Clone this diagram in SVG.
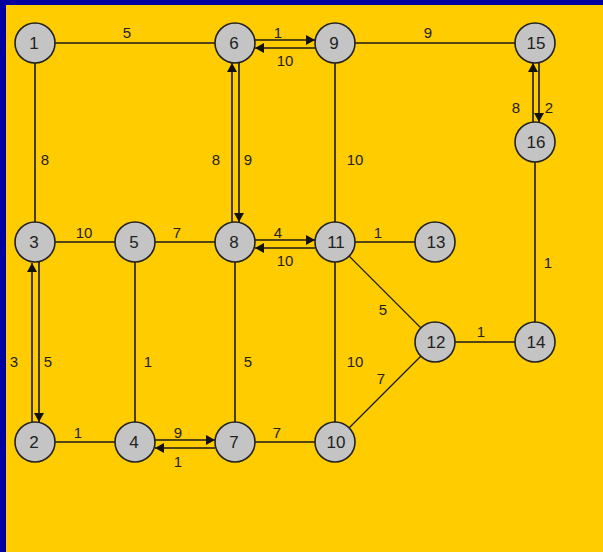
<svg xmlns="http://www.w3.org/2000/svg" width="603" height="552" viewBox="0 0 603 552">
<style>
.e{stroke:#1a1a1a;stroke-width:1.6;fill:none}
.d{stroke:#1a1a1a;stroke-width:1.2;fill:none}
.a{stroke:#1a1a1a;stroke-width:1.6;fill:none;marker-end:url(#ah)}
.n circle{fill:#c4c4c4;stroke:#222;stroke-width:1.6}
.n text{font-family:"Liberation Sans",Arial,sans-serif;font-size:17px;fill:#222;text-anchor:middle}
.l{font-family:"Liberation Sans",Arial,sans-serif;font-size:15px;fill:#222;text-anchor:middle}
</style>
<defs>
<marker id="ah" markerUnits="userSpaceOnUse" markerWidth="9" markerHeight="10" refX="9" refY="5" orient="auto">
<path d="M0,0 L9,5 L0,10 z" fill="#111"/>
</marker>
</defs>
<rect x="0" y="0" width="603" height="552" fill="#ffcc00"/>
<rect x="0" y="0" width="603" height="5" fill="#0000a0"/>
<rect x="0" y="0" width="6" height="552" fill="#0000a0"/>
<g id="connectors">
<line class="e" x1="35" y1="43" x2="235" y2="43"/>
<line class="e" x1="35" y1="43" x2="35" y2="242"/>
<line class="e" x1="335" y1="43" x2="535" y2="43"/>
<line class="e" x1="335" y1="43" x2="335" y2="242"/>
<line class="e" x1="35" y1="242" x2="235" y2="242"/>
<line class="e" x1="135" y1="242" x2="135" y2="442"/>
<line class="e" x1="235" y1="242" x2="235" y2="442"/>
<line class="e" x1="335" y1="242" x2="435" y2="242"/>
<line class="d" x1="335" y1="242" x2="435" y2="342"/>
<line class="e" x1="335" y1="242" x2="335" y2="442"/>
<line class="d" x1="335" y1="442" x2="435" y2="342"/>
<line class="e" x1="435" y1="342" x2="535" y2="342"/>
<line class="e" x1="535" y1="142" x2="535" y2="342"/>
<line class="e" x1="35" y1="442" x2="135" y2="442"/>
<line class="e" x1="235" y1="442" x2="335" y2="442"/>
<line class="a" x1="255" y1="40" x2="315" y2="40"/>
<line class="a" x1="315" y1="48" x2="255" y2="48"/>
<line class="a" x1="232" y1="222" x2="232" y2="63"/>
<line class="a" x1="239" y1="62" x2="239" y2="222"/>
<line class="a" x1="255" y1="240" x2="315" y2="240"/>
<line class="a" x1="315" y1="248" x2="255" y2="248"/>
<line class="a" x1="32" y1="422" x2="32" y2="263"/>
<line class="a" x1="39" y1="262" x2="39" y2="422"/>
<line class="a" x1="155" y1="440" x2="215" y2="440"/>
<line class="a" x1="215" y1="448" x2="155" y2="448"/>
<line class="a" x1="533" y1="122" x2="533" y2="63"/>
<line class="a" x1="539" y1="62" x2="539" y2="122"/>
</g>
<g id="edge-labels">
<text class="l" x="127" y="38">5</text>
<text class="l" x="45" y="165">8</text>
<text class="l" x="278" y="38">1</text>
<text class="l" x="285" y="66">10</text>
<text class="l" x="428" y="38">9</text>
<text class="l" x="216" y="165">8</text>
<text class="l" x="248" y="165">9</text>
<text class="l" x="355" y="165">10</text>
<text class="l" x="516" y="113">8</text>
<text class="l" x="549" y="113">2</text>
<text class="l" x="84" y="238">10</text>
<text class="l" x="177" y="238">7</text>
<text class="l" x="278" y="238">4</text>
<text class="l" x="285" y="266">10</text>
<text class="l" x="378" y="238">1</text>
<text class="l" x="548" y="268">1</text>
<text class="l" x="383" y="315">5</text>
<text class="l" x="481" y="337">1</text>
<text class="l" x="14" y="367">3</text>
<text class="l" x="48" y="367">5</text>
<text class="l" x="148" y="367">1</text>
<text class="l" x="248" y="367">5</text>
<text class="l" x="355" y="367">10</text>
<text class="l" x="381" y="384">7</text>
<text class="l" x="78" y="438">1</text>
<text class="l" x="178" y="438">9</text>
<text class="l" x="178" y="467">1</text>
<text class="l" x="277" y="438">7</text>
</g>
<g id="n1" class="n"><circle cx="35" cy="43" r="20"/><text x="34" y="49">1</text></g>
<g id="n6" class="n"><circle cx="235" cy="43" r="20"/><text x="234" y="49">6</text></g>
<g id="n9" class="n"><circle cx="335" cy="43" r="20"/><text x="334" y="49">9</text></g>
<g id="n15" class="n"><circle cx="535" cy="43" r="20"/><text x="536" y="49">15</text></g>
<g id="n16" class="n"><circle cx="535" cy="142" r="20"/><text x="536" y="148">16</text></g>
<g id="n3" class="n"><circle cx="35" cy="242" r="20"/><text x="34" y="248">3</text></g>
<g id="n5" class="n"><circle cx="135" cy="242" r="20"/><text x="134" y="248">5</text></g>
<g id="n8" class="n"><circle cx="235" cy="242" r="20"/><text x="234" y="248">8</text></g>
<g id="n11" class="n"><circle cx="335" cy="242" r="20"/><text x="336" y="248">11</text></g>
<g id="n13" class="n"><circle cx="435" cy="242" r="20"/><text x="436" y="248">13</text></g>
<g id="n12" class="n"><circle cx="435" cy="342" r="20"/><text x="436" y="348">12</text></g>
<g id="n14" class="n"><circle cx="535" cy="342" r="20"/><text x="536" y="348">14</text></g>
<g id="n2" class="n"><circle cx="35" cy="442" r="20"/><text x="34" y="448">2</text></g>
<g id="n4" class="n"><circle cx="135" cy="442" r="20"/><text x="134" y="448">4</text></g>
<g id="n7" class="n"><circle cx="235" cy="442" r="20"/><text x="234" y="448">7</text></g>
<g id="n10" class="n"><circle cx="335" cy="442" r="20"/><text x="336" y="448">10</text></g>
</svg>
